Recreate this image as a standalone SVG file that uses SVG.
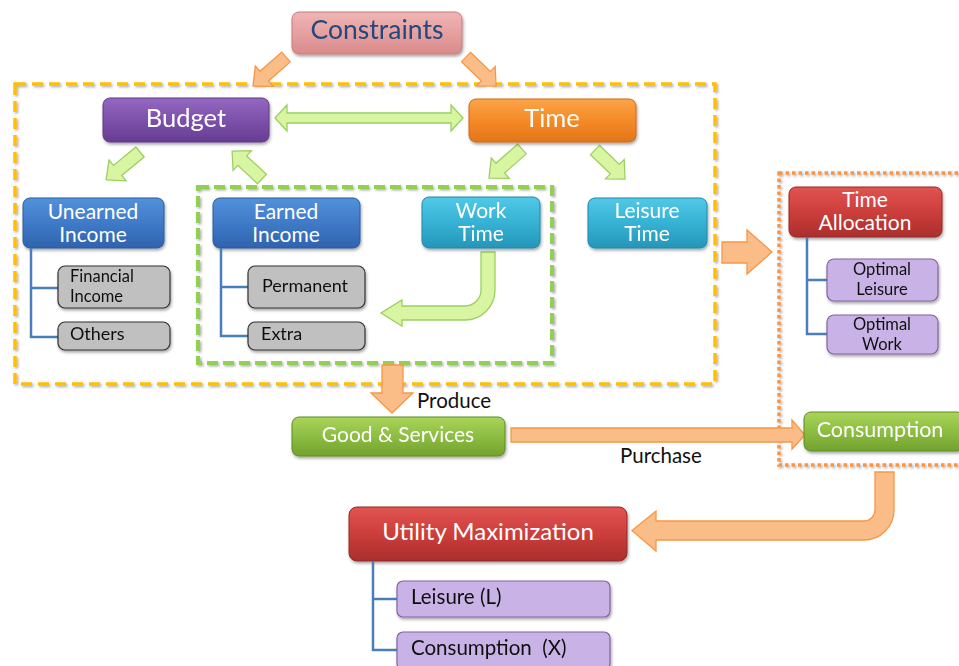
<svg xmlns="http://www.w3.org/2000/svg" width="959" height="666" viewBox="0 0 959 666">
<defs>
<filter id="sh" x="-10%" y="-10%" width="130%" height="140%"><feDropShadow dx="1" dy="2" stdDeviation="1.5" flood-color="#000" flood-opacity="0.35"/></filter>
<filter id="sh2" x="-5%" y="-5%" width="110%" height="110%"><feDropShadow dx="1.5" dy="1.5" stdDeviation="1" flood-color="#666" flood-opacity="0.5"/></filter>
<linearGradient id="gPink" x1="0" y1="0" x2="0" y2="1"><stop offset="0" stop-color="#f0b4b4"/><stop offset="0.5" stop-color="#e6a0a0"/><stop offset="1" stop-color="#d88a8a"/></linearGradient>
<linearGradient id="gPurple" x1="0" y1="0" x2="0" y2="1"><stop offset="0" stop-color="#9468c0"/><stop offset="0.5" stop-color="#7d51aa"/><stop offset="1" stop-color="#663d92"/></linearGradient>
<linearGradient id="gOrange" x1="0" y1="0" x2="0" y2="1"><stop offset="0" stop-color="#fba54a"/><stop offset="0.5" stop-color="#f58a26"/><stop offset="1" stop-color="#e2761a"/></linearGradient>
<linearGradient id="gBlue" x1="0" y1="0" x2="0" y2="1"><stop offset="0" stop-color="#5391da"/><stop offset="0.5" stop-color="#3f7ac8"/><stop offset="1" stop-color="#2f63ac"/></linearGradient>
<linearGradient id="gCyan" x1="0" y1="0" x2="0" y2="1"><stop offset="0" stop-color="#52c8e6"/><stop offset="0.5" stop-color="#36b2d4"/><stop offset="1" stop-color="#2596b8"/></linearGradient>
<linearGradient id="gRed" x1="0" y1="0" x2="0" y2="1"><stop offset="0" stop-color="#e05452"/><stop offset="0.5" stop-color="#cc3e3b"/><stop offset="1" stop-color="#aa2e2c"/></linearGradient>
<linearGradient id="gGreen" x1="0" y1="0" x2="0" y2="1"><stop offset="0" stop-color="#a9d459"/><stop offset="0.5" stop-color="#8dbd42"/><stop offset="1" stop-color="#73a22e"/></linearGradient>
<polygon id="arr" points="0,-6.5 29,-6.5 29,-13.5 44,0 29,13.5 29,6.5 0,6.5"/>
</defs>
<style>
.node{filter:url(#sh)}
.wt{fill:#fff;font-family:Lato,"Open Sans","Liberation Sans",sans-serif;text-anchor:middle}
.bt{fill:#111;font-family:Lato,"Open Sans","Liberation Sans",sans-serif}
.leafG{fill:#c0c0c0;stroke:#333;stroke-width:1.2}
.leafP{fill:#c9b3e6;stroke:#8064a2;stroke-width:1.2}
.tree{fill:none;stroke:#4a7ebb;stroke-width:2.5}
.ga{fill:#d8f5a2;stroke:#9ccf62;stroke-width:1.3}
.oa{fill:#fbbd88;stroke:#f79646;stroke-width:1.3}
.m{font-size:21px}
.s{font-size:18px}
.s2{font-size:16.5px}
</style>
<rect width="959" height="666" fill="#fff"/>
<g id="containers" fill="none" filter="url(#sh2)">
<rect x="15" y="84" width="700" height="300" stroke="#ffc000" stroke-width="3.5" stroke-dasharray="11 6"/>
<rect x="198" y="187" width="354" height="176" stroke="#92d050" stroke-width="4" stroke-dasharray="11 5"/>
<rect x="779" y="173" width="200" height="292" stroke="#f79646" stroke-width="3.5" stroke-dasharray="3.5 3"/>
</g>
<g id="connectors">
<use href="#arr" class="oa" transform="translate(286,57) rotate(138.6)"/>
<use href="#arr" class="oa" transform="translate(466,57) rotate(44) scale(0.95,1)"/>
<polygon class="ga" points="275,118 287,105 287,113 451,113 451,105 463,118 451,131 451,123 287,123 287,131"/>
<use href="#arr" class="ga" transform="translate(140,152) rotate(140.5)"/>
<use href="#arr" class="ga" transform="translate(262,179) rotate(-137) scale(0.93,1)"/>
<use href="#arr" class="ga" transform="translate(522,149) rotate(138.6)"/>
<use href="#arr" class="ga" transform="translate(595,150) rotate(44) scale(0.95,1)"/>
<path class="ga" d="M481,252 L495,252 L495,290 A30,30 0 0 1 465,320 L402,320 L402,326 L381,313 L402,300 L402,306 L465,306 A16,16 0 0 0 481,290 Z"/>
<polygon class="oa" points="722,242 747,242 747,230 772,252 747,274 747,263 722,263"/>
<polygon class="oa" points="382,365 403,365 403,393 413,393 392,413 371,393 382,393"/>
<polygon class="oa" points="511,428 792,428 792,420 805,435 792,449 792,442 511,442"/>
<path class="oa" d="M875,472 L894,472 L894,510 A30,30 0 0 1 864,540 L656,540 L656,551 L632,530.5 L656,511 L656,521 L864,521 A11,11 0 0 0 875,510 Z"/>
<text class="bt" x="417" y="408" font-size="20.5">Produce</text>
<text class="bt" x="620" y="463" font-size="20.5">Purchase</text>
</g>
<g id="constraints" class="node"><rect x="292" y="12" width="170" height="42" rx="7" fill="url(#gPink)" stroke="#c77c7c"/><text x="377" y="39" font-size="26.5" fill="#22497e" font-family="Lato,'Open Sans','Liberation Sans',sans-serif" text-anchor="middle">Constraints</text></g>
<g id="budget" class="node"><rect x="103" y="98" width="166" height="44" rx="7" fill="url(#gPurple)" stroke="#5e3b86"/><text class="wt" x="186" y="127" font-size="25.5">Budget</text></g>
<g id="time" class="node"><rect x="469" y="99" width="167" height="43" rx="7" fill="url(#gOrange)" stroke="#d06a10"/><text class="wt" x="552" y="127" font-size="25.5">Time</text></g>
<g id="unearned-income"><rect class="node" x="23" y="198" width="141" height="50" rx="7" fill="url(#gBlue)" stroke="#2c5a9c"/><text class="wt m" x="93" y="219">Unearned</text><text class="wt m" x="93" y="242">Income</text>
<path class="tree" d="M31,248 V337 H58 M31,288 H58"/></g>
<g id="financial-income" class="node"><rect class="leafG" x="58" y="266" width="112" height="42" rx="7"/><text class="bt s2" x="70" y="282">Financial</text><text class="bt s2" x="70" y="302">Income</text></g>
<g id="others" class="node"><rect class="leafG" x="58" y="322" width="112" height="28" rx="7"/><text class="bt s" x="70" y="340">Others</text></g>
<g id="earned-income"><rect class="node" x="213" y="198" width="147" height="50" rx="7" fill="url(#gBlue)" stroke="#2c5a9c"/><text class="wt m" x="286" y="219">Earned</text><text class="wt m" x="286" y="242">Income</text>
<path class="tree" d="M221,248 V336 H248 M221,287 H248"/></g>
<g id="permanent" class="node"><rect class="leafG" x="248" y="266" width="117" height="42" rx="7"/><text class="bt s" x="262" y="292">Permanent</text></g>
<g id="extra" class="node"><rect class="leafG" x="248" y="322" width="117" height="28" rx="7"/><text class="bt s" x="261" y="340">Extra</text></g>
<g id="work-time" class="node"><rect x="422" y="197" width="118" height="51" rx="7" fill="url(#gCyan)" stroke="#1f88a8"/><text class="wt m" x="481" y="218">Work</text><text class="wt m" x="481" y="241">Time</text></g>
<g id="leisure-time" class="node"><rect x="588" y="198" width="119" height="50" rx="7" fill="url(#gCyan)" stroke="#1f88a8"/><text class="wt m" x="647" y="218">Leisure</text><text class="wt m" x="647" y="241">Time</text></g>
<g id="time-allocation"><rect class="node" x="789" y="187" width="153" height="50" rx="7" fill="url(#gRed)" stroke="#982826"/><text class="wt m" x="865" y="207">Time</text><text class="wt m" x="865" y="230">Allocation</text>
<path class="tree" d="M807,237 V334 H827 M807,280 H827"/></g>
<g id="optimal-leisure" class="node"><rect class="leafP" x="827" y="259" width="111" height="42" rx="7"/><text class="bt s2" x="882" y="275" text-anchor="middle">Optimal</text><text class="bt s2" x="882" y="295" text-anchor="middle">Leisure</text></g>
<g id="optimal-work" class="node"><rect class="leafP" x="827" y="315" width="111" height="39" rx="7"/><text class="bt s2" x="882" y="330" text-anchor="middle">Optimal</text><text class="bt s2" x="882" y="350" text-anchor="middle">Work</text></g>
<g id="good-services" class="node"><rect x="292" y="417" width="213" height="39" rx="7" fill="url(#gGreen)" stroke="#5f8c24"/><text class="wt m" x="398" y="442">Good &amp; Services</text></g>
<g id="consumption" class="node"><rect x="804" y="412" width="160" height="39" rx="7" fill="url(#gGreen)" stroke="#5f8c24"/><text class="wt" x="880" y="437" font-size="21.5">Consumption</text></g>
<g id="utility-maximization"><rect class="node" x="349" y="507" width="278" height="54" rx="8" fill="url(#gRed)" stroke="#982826"/><text class="wt" x="488" y="540" font-size="24">Utility Maximization</text>
<path class="tree" d="M373,561 V650 H397 M373,599 H397"/></g>
<g id="leisure-l" class="node"><rect class="leafP" x="397" y="581" width="213" height="36" rx="6"/><text class="bt" x="411" y="604" font-size="20.5">Leisure (L)</text></g>
<g id="consumption-x" class="node"><rect class="leafP" x="397" y="632" width="213" height="38" rx="6"/><text class="bt" x="411" y="655" font-size="20.5">Consumption&#160; (X)</text></g>
</svg>
